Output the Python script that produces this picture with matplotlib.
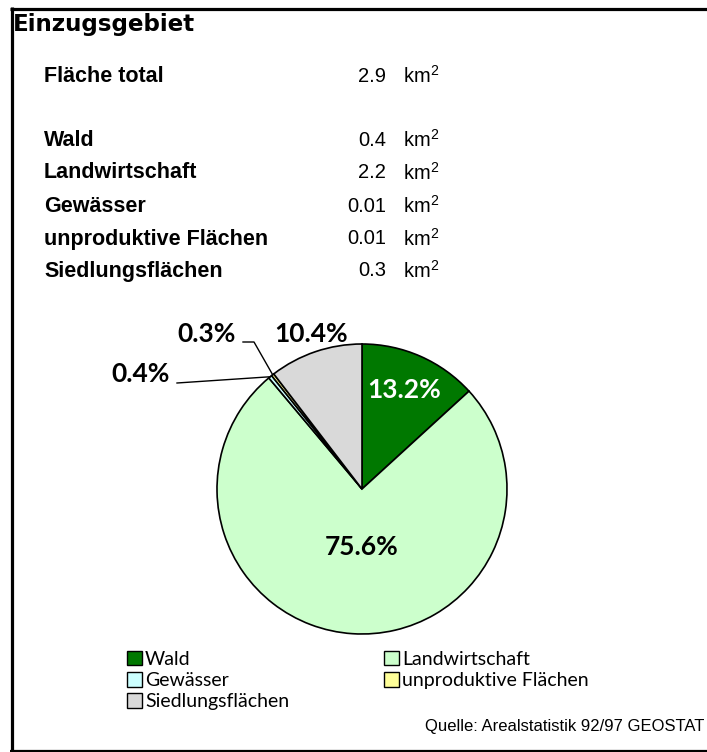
import numpy as np
import matplotlib
matplotlib.use("Agg")
from matplotlib import pyplot as plt
from matplotlib.patches import Patch

W, H = 707, 752

# data
total_label = "Fläche total"
total_area = 2.9
categories = ["Wald", "Landwirtschaft", "Gewässer", "unproduktive Flächen", "Siedlungsflächen"]
areas = [0.4, 2.2, 0.01, 0.01, 0.3]  # km2
percents = [13.2, 75.6, 0.4, 0.3, 10.4]
colors = ["#007800", "#CCFFCC", "#CCFFFF", "#FFFF99", "#D9D9D9"]
source = "Quelle: Arealstatistik 92/97 GEOSTAT"

plt.rcParams["mathtext.fontset"] = "custom"
plt.rcParams["mathtext.rm"] = "Liberation Sans"
plt.rcParams["mathtext.it"] = "Liberation Sans"
plt.rcParams["mathtext.default"] = "regular"

fig = plt.figure(figsize=(W / 100, H / 100), dpi=100)

# pie placed in pixel space
CX, CY, R = 362, 489, 145
pax = fig.add_axes([(CX - R) / W, (H - CY - R) / H, 2 * R / W, 2 * R / H])
wedges, _ = pax.pie(percents, colors=colors, startangle=90, counterclock=False,
                    wedgeprops=dict(edgecolor="black", linewidth=1.2))
pax.set_xlim(-1, 1)
pax.set_ylim(-1, 1)
pax.set_aspect("equal")
pax.axis("off")

# overlay in pixel coords
ax = fig.add_axes([0, 0, 1, 1])
ax.set_xlim(0, W)
ax.set_ylim(H, 0)
ax.axis("off")
ax.patch.set_visible(False)

# border
ax.plot([11.5, 11.5], [7, 751], color="black", lw=2.3, solid_capstyle="butt")
ax.plot([10, W], [8.5, 8.5], color="black", lw=2.3, solid_capstyle="butt")
ax.plot([10, W], [750.5, 750.5], color="black", lw=1.6, solid_capstyle="butt")

ax.text(13, 25, "Einzugsgebiet", fontsize=16.6, fontweight="bold",
        family="DejaVu Sans", va="center", ha="left")

bold = dict(family="Liberation Sans", fontweight="bold", fontsize=15.5, va="center")
reg = dict(family="Liberation Sans", fontsize=14.5, va="center")

row_y = [140, 173, 206, 239, 271]
ax.text(44, 76, total_label, ha="left", **bold)
ax.text(386, 76, f"{total_area:g}", ha="right", **reg)
ax.text(403, 76, "km$^2$", ha="left", **reg)
for y, name, a in zip(row_y, categories, areas):
    ax.text(44, y, name, ha="left", **bold)
    ax.text(386, y, f"{a:g}", ha="right", **reg)
    ax.text(403, y, "km$^2$", ha="left", **reg)


def edge_point(w):
    t = np.radians((w.theta1 + w.theta2) / 2)
    return CX + R * np.cos(t), CY - R * np.sin(t)


pct_font = dict(family="Lato", fontweight="bold", fontsize=19, va="center")
lab_pos = [(404, 390, "white"), (362, 547, "black"), None, None, (311, 334, "black")]
for pos, p in zip(lab_pos, percents):
    if pos:
        ax.text(pos[0], pos[1], f"{p:.1f}%", ha="center", color=pos[2], **pct_font)

# small slices with leader lines
ax.text(141, 374, f"{percents[2]:.1f}%", ha="center", color="black", **pct_font)
ex, ey = edge_point(wedges[2])
ax.plot([177, ex], [383, ey], color="black", lw=1)

ax.text(207, 334, f"{percents[3]:.1f}%", ha="center", color="black", **pct_font)
ex, ey = edge_point(wedges[3])
ax.plot([243, 254, ex], [342, 342, ey], color="black", lw=1)

handles = [Patch(facecolor=c, edgecolor="black", linewidth=1) for c in colors]
order = [0, 2, 4, 1, 3]
fig.legend([handles[i] for i in order], [categories[i] for i in order],
           loc="upper left", bbox_to_anchor=(127 / W, 1 - 651 / H), ncol=2,
           frameon=False, prop=dict(family="Lato", size=14),
           handlelength=0.77, handleheight=0.77, handletextpad=0.15,
           labelspacing=0.21, columnspacing=4.9, borderpad=0, borderaxespad=0)

ax.text(704, 727, source, ha="right", va="center", family="Liberation Sans", fontsize=12)

fig.savefig("out.png", dpi=100)
